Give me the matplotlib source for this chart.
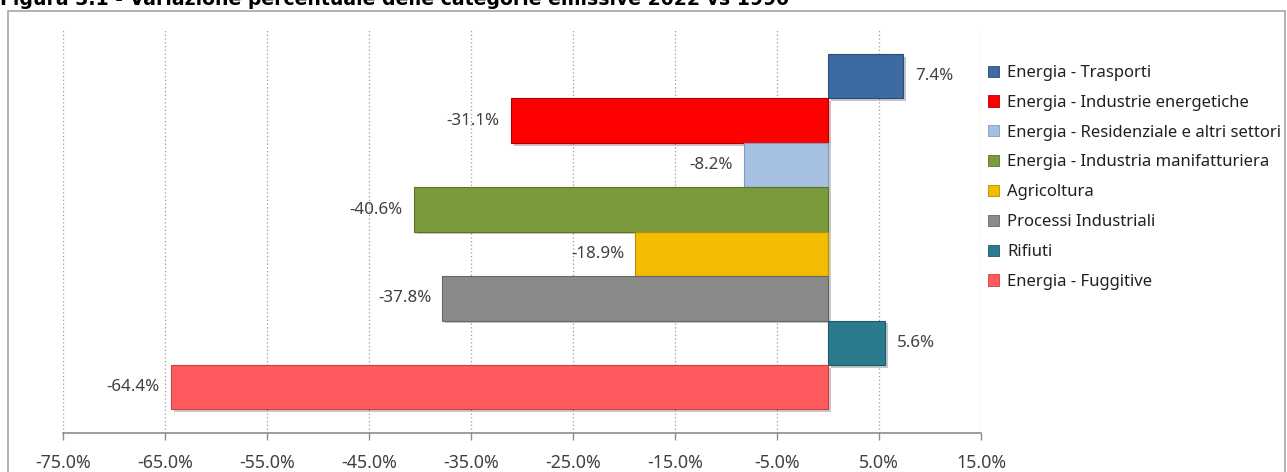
import matplotlib
matplotlib.use("Agg")
import matplotlib.pyplot as plt
from matplotlib.patches import Patch, Rectangle
import matplotlib.patheffects as pe
from matplotlib.ticker import FixedLocator

categories = ["Energia - Trasporti", "Energia - Industrie energetiche",
              "Energia - Residenziale e altri settori", "Energia - Industria manifatturiera",
              "Agricoltura", "Processi Industriali", "Rifiuti", "Energia - Fuggitive"]
values = [7.4, -31.1, -8.2, -40.6, -18.9, -37.8, 5.6, -64.4]
colors = ["#3D6AA3", "#FF0000", "#A6C0E2", "#7B9A3C", "#F2BC00", "#8A8A8A", "#2B7B8E", "#FF5A5E"]
edges = ["#2A4D7A", "#B00000", "#7F9CC2", "#5A7328", "#B88E00", "#666666", "#1D5866", "#C84045"]
ticks = [-75, -65, -55, -45, -35, -25, -15, -5, 5, 15]
tick_labels = [f"{t:.1f}%" for t in ticks]
title = "Figura 3.1 - Variazione percentuale delle categorie emissive 2022 vs 1990"

plt.rcParams['font.family'] = ['Noto Sans', 'DejaVu Sans']
W, H = 1287, 472
fig = plt.figure(figsize=(W / 100, H / 100), dpi=100)

# outer frame
fig.patches.append(Rectangle((8 / W, -0.1), (1285 - 8) / W, 1 - 11 / H + 0.1,
                             transform=fig.transFigure, fill=False,
                             edgecolor="#A6A6A6", linewidth=1.2))
fig.text(0 / W, 1 - 5 / H, title, fontsize=13.6, fontweight="bold", va="baseline", ha="left",
         family="DejaVu Sans", color="black")

ax = fig.add_axes([63 / W, 1 - 433 / H, (981 - 63) / W, (433 - 30) / H])
ypos = list(range(len(values)))
bars = ax.barh(ypos, values, height=1.0, color=colors, edgecolor=edges, linewidth=0.8, zorder=3)
for b in bars:
    b.set_path_effects([pe.SimplePatchShadow(offset=(2, -2), alpha=0.25), pe.Normal()])
for y, v in zip(ypos, values):
    off = 12 if v > 0 else -11
    ax.annotate(f"{v:.1f}%", (v, y), xytext=(off, 0), textcoords="offset pixels",
                ha="left" if v > 0 else "right", va="center", fontsize=12.2, color="#404040")

ax.set_xlim(-75, 15)
ax.set_ylim(len(values) - 0.5 + 0.53, -0.5 - 0.54)
ax.xaxis.set_major_locator(FixedLocator(ticks))
ax.set_xticklabels(tick_labels, fontsize=12.8, color="#404040")
ax.set_yticks([])
ax.grid(axis="x", linestyle=(0, (1, 2)), color="#9A9A9A", linewidth=0.9, zorder=0)
for s in ["left", "right", "top"]:
    ax.spines[s].set_visible(False)
ax.spines["bottom"].set_color("#8C8C8C")
ax.spines["bottom"].set_linewidth(1.2)
ax.tick_params(axis="x", direction="out", length=5, width=1, color="#8C8C8C", pad=10)

handles = [Patch(facecolor=c, edgecolor=e, linewidth=0.6) for c, e in zip(colors, edges)]
fig.legend(handles, categories, loc="upper left", bbox_to_anchor=(988 / W, 1 - 65 / H),
           frameon=False, fontsize=12, handlelength=0.65, handleheight=0.65,
           handletextpad=0.5, labelspacing=0.83, borderpad=0, borderaxespad=0,
           labelcolor="#202020")

fig.savefig("out.png", dpi=100)
